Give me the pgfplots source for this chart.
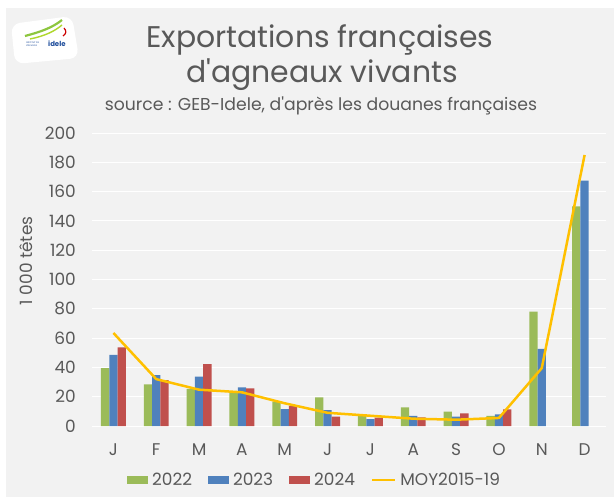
\documentclass[border=0pt]{standalone}
\usepackage{fontspec}
\setmainfont{Poppins}
\usepackage{pgfplots}
\pgfplotsset{compat=1.18}
\definecolor{bg}{HTML}{F2F2F2}
\definecolor{txt}{HTML}{595959}
\definecolor{cg}{HTML}{9BBB59}
\definecolor{cb}{HTML}{4F81BD}
\definecolor{cr}{HTML}{C0504D}
\definecolor{cy}{HTML}{FFC000}
\definecolor{logog}{HTML}{8DC63F}
\definecolor{logob}{HTML}{1F4E9C}
\begin{document}
\begin{tikzpicture}[x=1bp,y=1bp]
\useasboundingbox (0,0) rectangle (614,-497);
\fill[white] (0,0) rectangle (614,-497);
\fill[bg] (6,-8) rectangle (614,-497);
% logo
\fill[white, rounded corners=9bp] (11,-24) -- (72,-16) -- (79,-58) -- (15,-64) -- cycle;
\draw[logog, line width=2.2bp] (25,-36) .. controls (40,-32) and (52,-28) .. (62,-20);
\draw[logog!70!yellow, line width=1.4bp] (30,-39) .. controls (45,-36) and (55,-31) .. (62,-25);
\draw[red!80!black, line width=1.2bp] (64,-28) .. controls (67,-31) and (66,-34) .. (63,-36);
\node[logob, font=\fontsize{2.3}{2.5}\selectfont, anchor=west, inner sep=0pt, align=left] at (26,-44) {INSTITUT DE\\L\textquotesingle ÉLEVAGE};
\node[logob, font=\bfseries\fontsize{7}{8}\selectfont, anchor=west, inner sep=0pt] at (48,-44) {idele};
% titles
\node[txt, font=\fontsize{30}{34}\selectfont, anchor=base, inner sep=0pt] at (320,-48) {Exportations françaises};
\node[txt, font=\fontsize{30}{34}\selectfont, anchor=base, inner sep=0pt] at (322,-83) {d\textquotesingle agneaux vivants};
\node[txt, font=\fontsize{17.3}{20}\selectfont, anchor=base, inner sep=0pt] at (321,-111) {source : GEB-Idele, d\textquotesingle après les douanes françaises};
\begin{axis}[
  at={(92bp,-426bp)}, anchor=south west,
  width=514bp, height=293bp, scale only axis,
  xmin=-0.5, xmax=11.5, ymin=0, ymax=200,
  axis line style={draw=none}, major tick length=0pt,
  ymajorgrids, grid style={white, line width=1bp},
  xtick={0,...,11},
  xticklabels={J,F,M,A,M,J,J,A,S,O,N,D},
  ytick={0,20,...,200},
  /pgf/number format/assume math mode=true,
  tick label style={txt, font=\fontsize{17}{20}\selectfont, inner sep=0pt},
  yticklabel style={anchor=east, xshift=-16bp},
  xticklabel style={anchor=base, yshift=-29bp},
  ylabel={1\hspace{0.3em}000 têtes},
  every axis y label/.style={at={(axis description cs:-0.1284,0.563)}, rotate=90, anchor=center, txt, font=\fontsize{17}{20}\selectfont},
  ybar=0pt, bar width=8.3bp,
  legend columns=4,
  legend style={at={(axis description cs:0.0681,-0.1843)}, anchor=west, draw=none, fill=none, inner sep=0pt,
    nodes={inner sep=0pt, text=txt, font=\fontsize{17}{20}\selectfont},
    /tikz/every odd column/.append style={column sep=4bp},
    /tikz/every even column/.append style={column sep=16bp}},
  clip=false,
]
\addplot[fill=cg, draw=none, legend image code/.code={\fill[cg] (0bp,-4bp) rectangle (21bp,4bp);}] coordinates {
(0,39.5) (1,28.5) (2,25.3) (3,23.4) (4,16.6) (5,19.6) (6,7.5) (7,12.8) (8,9.8) (9,7) (10,78) (11,150)};
\addlegendentry{2022}
\addplot[fill=cb, draw=none, legend image code/.code={\fill[cb] (0bp,-4bp) rectangle (21bp,4bp);}] coordinates {
(0,48.5) (1,34.8) (2,33.7) (3,26.4) (4,11.6) (5,10.9) (6,4.7) (7,7) (8,6.4) (9,8) (10,52.6) (11,167.5)};
\addlegendentry{2023}
\addplot[fill=cr, draw=none, legend image code/.code={\fill[cr] (0bp,-4bp) rectangle (21bp,4bp);}] coordinates {
(0,53.7) (1,31.4) (2,42.3) (3,25.7) (4,13.7) (5,6.4) (6,5.8) (7,5.9) (8,8.7) (9,11.4)};
\addlegendentry{2024}
\addplot[sharp plot, cy, line width=2.5bp, line join=round, legend image code/.code={\draw[cy, line width=2.5bp] (0bp,0bp) -- (23bp,0bp);}] coordinates {
(0,63.5) (1,32) (2,24.8) (3,23) (4,15.5) (5,9) (6,7) (7,5) (8,4.3) (9,5.5) (10,39.5) (11,185)};
\addlegendentry{MOY2015-19}
\end{axis}
\end{tikzpicture}
\end{document}
